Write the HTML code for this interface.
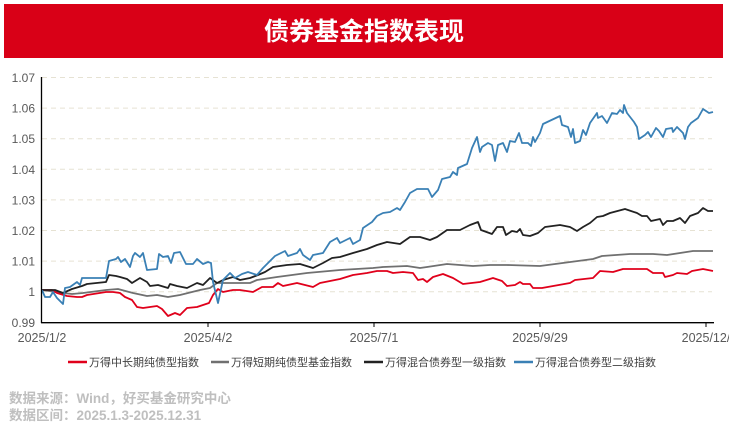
<!DOCTYPE html>
<html><head><meta charset="utf-8"><style>
body{margin:0;background:#fff;width:729px;height:428px;overflow:hidden}
svg{display:block}
text{font-family:"Liberation Sans","Noto Sans CJK SC",sans-serif}
</style></head><body>
<svg width="729" height="428" viewBox="0 0 729 428">
<rect x="4" y="4" width="719" height="54" fill="#d90017"/>
<text x="364" y="40" text-anchor="middle" font-size="25" font-weight="bold" fill="#fff" font-family="'Noto Sans CJK SC',sans-serif">债券基金指数表现</text>
<g stroke="#e6e2d3" stroke-width="1" stroke-dasharray="5,4">
<line x1="42" x2="712" y1="77.5" y2="77.5"/><line x1="42" x2="712" y1="108.1" y2="108.1"/><line x1="42" x2="712" y1="138.7" y2="138.7"/><line x1="42" x2="712" y1="169.3" y2="169.3"/><line x1="42" x2="712" y1="199.9" y2="199.9"/><line x1="42" x2="712" y1="230.5" y2="230.5"/><line x1="42" x2="712" y1="261.1" y2="261.1"/><line x1="42" x2="712" y1="291.7" y2="291.7"/>
</g>
<g font-size="12" fill="#595959" text-anchor="end">
<text x="35" y="82">1.07</text><text x="35" y="112.5">1.06</text><text x="35" y="143">1.05</text><text x="35" y="174">1.04</text><text x="35" y="204.5">1.03</text><text x="35" y="235">1.02</text><text x="35" y="265.5">1.01</text><text x="35" y="296">1</text><text x="35" y="327">0.99</text>
</g>
<g font-size="12.5" fill="#595959" text-anchor="middle">
<text x="42" y="342">2025/1/2</text><text x="208" y="342">2025/4/2</text><text x="374" y="342">2025/7/1</text><text x="540" y="342">2025/9/29</text><text x="706" y="342">2025/12/</text>
</g>
<g fill="none" stroke-width="1.8" stroke-linejoin="round">
<polyline stroke="#707070" points="42,290 63,293 72,294 83,293 106,290 118,289 133,293 147,296 157,295 168,297 180,295 200,290 210,288 217,283 233,283 250,283 257,280 277,277 307,273 340,270 373,268 383,267 407,266 420,268 427,267 447,264 473,266 490,265 507,265 540,266 593,259 602,256 630,254 653,254 667,255 693,251 713,251"/>
<polyline stroke="#e0001b" points="42,290 52,290 57,293 67,296 77,297 82,297 87,295 106,292 113,292 120,293 125,297 132,300 137,307 143,308 150,307 157,306 162,309 168,316 175,313 180,315 187,308 197,307 203,305 209,303 213,295 218,289 223,292 233,290 240,290 253,292 262,287 273,287 278,283 283,286 297,283 313,287 320,283 340,279 353,275 367,273 377,271 387,271 393,273 403,272 413,273 418,280 423,279 427,282 433,277 443,274 453,278 463,284 480,282 493,278 502,281 507,286 515,285 520,282 523,284 530,284 533,288 542,288 570,283 575,280 593,278 600,271 613,272 623,269 647,269 653,273 663,273 665,277 673,275 677,273 687,274 692,271 703,269 713,271"/>
<polyline stroke="#222" points="42,290 55,290 63,293 72,289 82,286 87,284 106,282 109,275 116,276 120,277 127,279 132,283 140,278 147,282 150,286 158,285 168,288 170,284 177,286 187,288 197,283 203,285 210,278 217,283 223,280 233,277 240,280 250,278 258,275 265,272 273,267 287,265 300,264 313,268 323,263 332,258 340,257 353,253 367,249 377,245 387,242 400,244 410,237 420,237 430,240 437,237 447,230 460,230 470,225 478,222 481,230 492,234 497,227 503,227 506,235 512,231 517,232 520,229 523,235 530,236 538,233 545,227 560,225 570,227 577,231 583,227 590,223 597,217 603,216 610,213 625,209 637,213 642,216 647,216 651,221 660,219 663,225 667,221 673,221 680,218 685,223 690,216 698,213 703,208 708,211 713,211"/>
<polyline stroke="#3a80b5" points="42,290 45,297 50,297 53,292 57,298 63,304 65,288 70,287 77,282 80,285 82,278 87,278 106,278 109,261 116,259 118,257 121,262 125,259 130,267 133,256 135,253 140,257 143,253 147,270 157,269 159,254 163,257 168,256 171,263 174,253 180,252 186,264 193,264 197,259 203,264 208,262 211,263 213,282 218,303 223,280 230,273 235,278 242,274 248,272 257,275 263,268 275,256 285,251 288,256 297,253 300,249 303,255 310,260 313,255 323,253 330,242 337,238 340,243 350,238 353,244 360,240 363,228 372,222 377,216 383,213 390,212 397,208 400,210 405,202 410,193 417,189 428,189 432,197 438,190 442,179 450,177 453,172 457,175 458,168 467,164 472,148 477,137 480,152 482,147 488,143 492,145 495,161 498,145 503,143 507,152 510,141 515,142 519,133 522,143 528,143 531,146 533,137 535,142 540,133 543,124 560,116 562,125 568,127 571,137 573,129 575,143 580,141 583,130 586,135 590,123 597,113 598,118 602,116 607,123 612,113 617,114 620,110 623,113 624,105 627,113 634,122 637,127 639,139 645,135 648,132 651,137 656,128 659,131 663,137 666,129 672,128 673,132 677,127 683,133 685,139 688,127 691,123 698,118 703,109 709,113 713,112"/>
</g>
<line x1="41.5" y1="77" x2="41.5" y2="323" stroke="#000" stroke-width="1.3"/>
<line x1="41" y1="322.7" x2="714" y2="322.7" stroke="#000" stroke-width="1.3"/>
<g stroke="#000" stroke-width="1"><line x1="208" x2="208" y1="322" y2="327"/><line x1="374" x2="374" y1="322" y2="327"/><line x1="540" x2="540" y1="322" y2="327"/><line x1="706" x2="706" y1="322" y2="327"/></g>
<g font-size="11" fill="#404040" font-family="'Noto Sans CJK SC',sans-serif">
<line x1="68" x2="87" y1="362" y2="362" stroke="#e0001b" stroke-width="2.5"/><text x="89" y="366">万得中长期纯债型指数</text>
<line x1="211" x2="229" y1="362" y2="362" stroke="#707070" stroke-width="2.5"/><text x="231" y="366">万得短期纯债型基金指数</text>
<line x1="364" x2="383" y1="362" y2="362" stroke="#222" stroke-width="2.5"/><text x="385" y="366">万得混合债券型一级指数</text>
<line x1="514" x2="533" y1="362" y2="362" stroke="#3a80b5" stroke-width="2.5"/><text x="535" y="366">万得混合债券型二级指数</text>
</g>
<g font-size="13.5" font-weight="bold" fill="#bfbfbf" font-family="'Noto Sans CJK SC',sans-serif">
<text x="9" y="403">数据来源：Wind，好买基金研究中心</text>
<text x="9" y="420">数据区间：2025.1.3-2025.12.31</text>
</g>
</svg>
</body></html>
